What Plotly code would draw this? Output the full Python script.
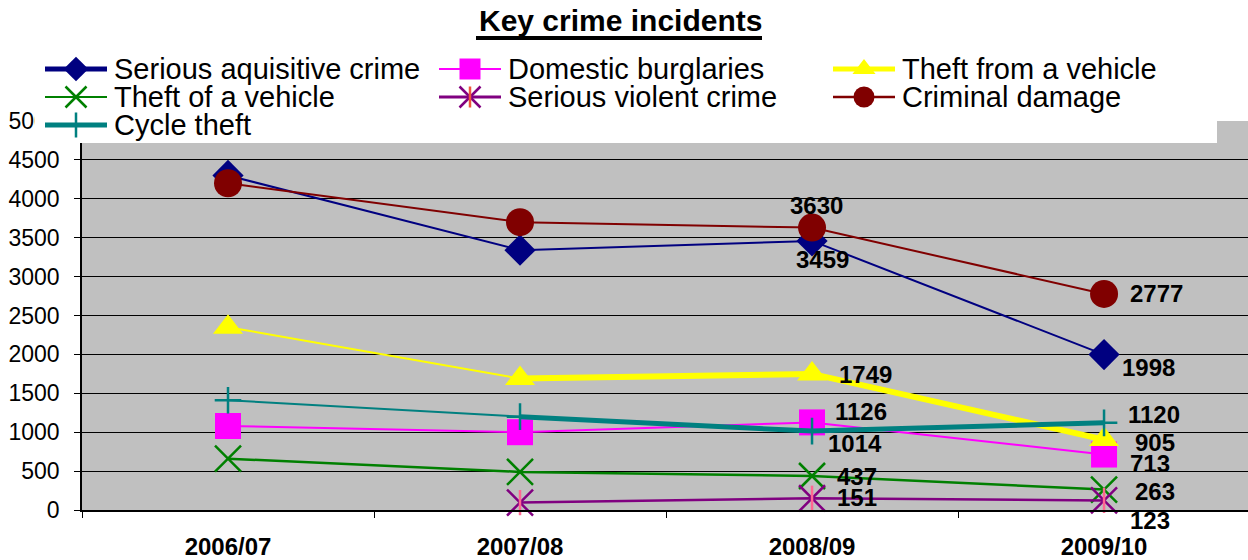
import plotly.graph_objects as go

# ---- data -------------------------------------------------------------
categories = ["2006/07", "2007/08", "2008/09", "2009/10"]
serious_acquisitive = [4300, 3340, 3459, 1998]
domestic_burglaries = [1080, 1000, 1126, 713]
theft_from_vehicle = [2350, 1690, 1749, 905]
theft_of_vehicle = [660, 490, 437, 263]
serious_violent = [None, 95, 151, 123]
criminal_damage = [4200, 3700, 3630, 2777]
cycle_theft = [1410, 1200, 1014, 1120]
y_ticks = list(range(0, 5001, 500))
labelled_points = [2, 3]  # the two latest years carry value labels

# ---- page geometry (px) -----------------------------------------------
W, H = 1248, 560
FONT = "Liberation Sans, Arial, sans-serif"


def fx(x):
    return x / W


def fy(y):
    return 1 - y / H


# label placement: (anchor, dx, dy) in px relative to the point, per labelled year
series = [
    dict(name="Serious aquisitive crime", values=serious_acquisitive, color="#000080",
         symbol="diamond", size=24, lw=2, thick=None, leg_lw=5, leg_size=19,
         lab=[("center", 10, 19), ("left", 16, 13)]),
    dict(name="Domestic burglaries", values=domestic_burglaries, color="#FF00FF",
         symbol="square", size=26, lw=2, thick=None, leg_lw=2, leg_size=21,
         lab=[("left", 21, -11), ("left", 24, 9)]),
    dict(name="Theft from a vehicle", values=theft_from_vehicle, color="#FFFF00",
         symbol="triangle-up", size=26, lw=2, thick=6, leg_lw=5, leg_size=20,
         lab=[("left", 25, 1), ("left", 29, 3)]),
    dict(name="Theft of a vehicle", values=theft_of_vehicle, color="#008000",
         symbol="x-thin-open", size=26, lw=2.5, thick=None, leg_lw=2, leg_size=21,
         lab=[("left", 23, 0), ("left", 29, 2)]),
    dict(name="Serious violent crime", values=serious_violent, color="#800080",
         symbol="x-thin-open", size=26, lw=2.5, thick=None, leg_lw=3, leg_size=21,
         lab=[("left", 23, -1), ("left", 24, 20)], star=True),
    dict(name="Criminal damage", values=criminal_damage, color="#800000",
         symbol="circle", size=28, lw=2, thick=None, leg_lw=2.5, leg_size=21,
         lab=[("center", 4, -22), ("left", 24, 0)]),
    dict(name="Cycle theft", values=cycle_theft, color="#008080",
         symbol="cross-thin-open", size=19, lw=2, thick=5, leg_lw=5, leg_size=18,
         lab=[("left", 14, 12), ("left", 22, -8)]),
]

fig = go.Figure()
annotations = []

# ---- data series -------------------------------------------------------
for s in series:
    vals = s["values"]
    if s["thick"]:
        # heavier line weight from the second year onwards
        fig.add_trace(go.Scatter(
            x=categories[1:], y=vals[1:], mode="lines",
            line=dict(color=s["color"], width=s["thick"]),
            hoverinfo="skip", showlegend=False))
    open_marker = s["symbol"].endswith("open")
    fig.add_trace(go.Scatter(
        x=categories, y=vals, name=s["name"], mode="lines+markers",
        line=dict(color=s["color"], width=s["lw"]),
        marker=dict(symbol=s["symbol"], size=s["size"], color=s["color"],
                    line=dict(color=s["color"], width=2.5 if open_marker else 0)),
        cliponaxis=False, showlegend=False))
    if s.get("star"):
        fig.add_trace(go.Scatter(
            x=categories, y=vals, mode="markers",
            marker=dict(symbol="line-ns-open", size=18,
                        line=dict(color=s["color"], width=2.5)),
            cliponaxis=False, hoverinfo="skip", showlegend=False))
    # value labels for the latest two years
    for k, i in enumerate(labelled_points):
        anchor, dx, dy = s["lab"][k]
        annotations.append(dict(
            x=categories[i], y=vals[i], xref="x", yref="y",
            text=f"<b>{vals[i]}</b>", showarrow=False,
            xanchor=anchor, yanchor="middle", xshift=dx, yshift=-dy,
            font=dict(family=FONT, size=24, color="black")))

# ---- legend panel (drawn on its own pixel-scaled subplot) ------------------
leg_x0, leg_x1, leg_y0, leg_y1 = 35, 1217, 46, 143
fig.add_trace(go.Scatter(
    x=[leg_x0 - 20, leg_x1 + 20, leg_x1 + 20, leg_x0 - 20],
    y=[leg_y1 + 20, leg_y1 + 20, leg_y0 - 20, leg_y0 - 20],
    fill="toself", fillcolor="white", mode="lines", line=dict(width=0),
    xaxis="x2", yaxis="y2", hoverinfo="skip", showlegend=False))

col_x = [45, 439, 833]
row_y = [69, 97, 125]
sample_len = 62
for i, s in enumerate(series):
    x0 = col_x[i % 3]
    y0 = row_y[i // 3]
    xm = x0 + sample_len / 2
    x1 = x0 + sample_len
    fig.add_trace(go.Scatter(
        x=[x0, x1], y=[y0, y0], mode="lines",
        line=dict(color=s["color"], width=s["leg_lw"]),
        xaxis="x2", yaxis="y2", hoverinfo="skip", showlegend=False))
    open_marker = s["symbol"].endswith("open")
    fig.add_trace(go.Scatter(
        x=[xm], y=[y0], mode="markers",
        marker=dict(symbol=s["symbol"], size=s["leg_size"], color=s["color"],
                    line=dict(color=s["color"], width=2.5 if open_marker else 0)),
        xaxis="x2", yaxis="y2", hoverinfo="skip", showlegend=False))
    if s.get("star"):
        fig.add_trace(go.Scatter(
            x=[xm], y=[y0], mode="markers",
            marker=dict(symbol="line-ns-open", size=15,
                        line=dict(color=s["color"], width=2.5)),
            xaxis="x2", yaxis="y2", hoverinfo="skip", showlegend=False))
    annotations.append(dict(
        x=x1 + 5, y=y0, xref="x2", yref="y2", xanchor="left", yanchor="middle",
        text=s["name"], showarrow=False,
        font=dict(family=FONT, size=29, color="black")))

# ---- title ----------------------------------------------------------------
annotations.append(dict(
    x=fx(620), y=fy(21), xref="paper", yref="paper", xanchor="center",
    yanchor="middle", text="<b>Key crime incidents</b>", showarrow=False,
    font=dict(family=FONT, size=30, color="black")))

fig.update_layout(
    width=W, height=H,
    margin=dict(l=0, r=0, t=0, b=0),
    paper_bgcolor="white",
    plot_bgcolor="#C0C0C0",
    showlegend=False,
    font=dict(family=FONT, color="black"),
    annotations=annotations,
    shapes=[dict(type="line", xref="paper", yref="paper",
                 x0=fx(476), x1=fx(762), y0=fy(38), y1=fy(38),
                 line=dict(color="black", width=4))],
    xaxis=dict(
        domain=[fx(82), 1], anchor="y", type="category", automargin=False,
        range=[-0.5, 3.493], tickson="boundaries",
        ticks="outside", ticklen=6, tickcolor="black", tickwidth=1,
        showline=True, linecolor="black", linewidth=1.5,
        showgrid=False, zeroline=False,
        tickfont=dict(family=FONT, size=24, color="black", weight="bold"),
        ticklabelstandoff=14),
    yaxis=dict(
        domain=[fy(510), fy(121)], anchor="x", range=[0, 5000], automargin=False,
        tickvals=y_ticks, ticks="outside", ticklen=6, tickcolor="black",
        showline=True, linecolor="black", linewidth=1.5,
        showgrid=True, gridcolor="black", gridwidth=1, zeroline=False,
        tickfont=dict(family=FONT, size=23, color="black"),
        ticklabelstandoff=10),
    xaxis2=dict(domain=[fx(leg_x0), fx(leg_x1)], anchor="y2", automargin=False,
                range=[leg_x0, leg_x1], visible=False),
    yaxis2=dict(domain=[fy(leg_y1), fy(leg_y0)], anchor="x2", automargin=False,
                range=[leg_y1, leg_y0], visible=False),
)

fig.write_html("out.html")
